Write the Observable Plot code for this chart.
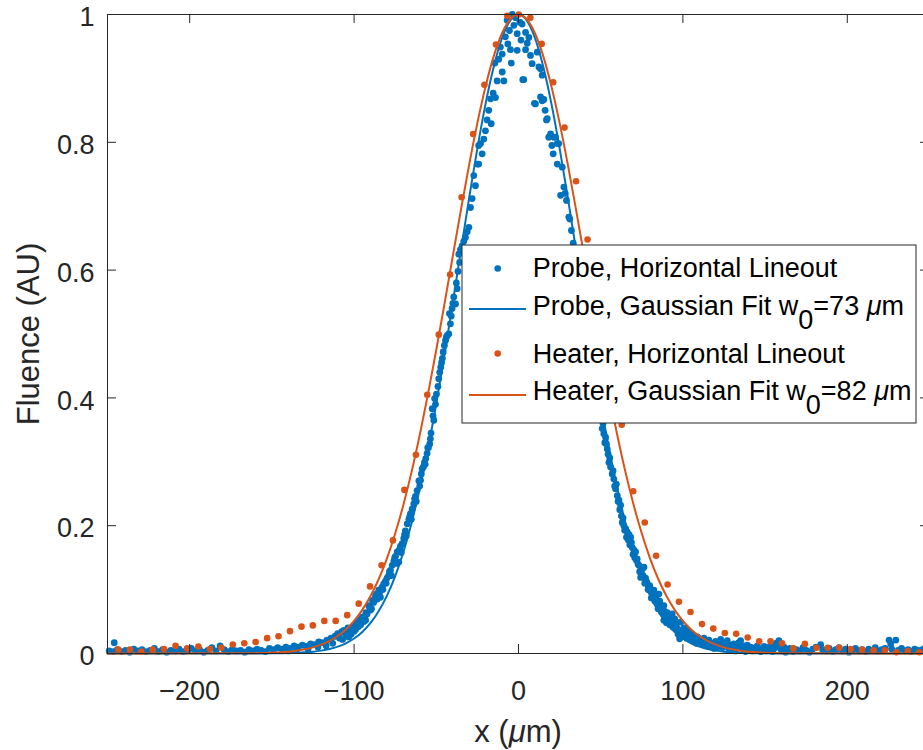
<!DOCTYPE html>
<html>
<head>
<meta charset="utf-8">
<script src="https://cdn.jsdelivr.net/npm/d3@7"></script>
<script src="https://cdn.jsdelivr.net/npm/@observablehq/plot@0.6"></script>
<style>
  html, body { margin: 0; padding: 0; background: white; overflow: hidden; }
  #chart { width: 923px; height: 750px; overflow: hidden; }
</style>
</head>
<body>
<div id="chart"></div>
<script>
// ---------- data ----------
const xTicks = [-200, -100, 0, 100, 200];
const xTickLabels = ["\u2212200", "\u2212100", "0", "100", "200"];
const yTicks = [0, 0.2, 0.4, 0.6, 0.8, 1];
const yTickLabels = ["0", "0.2", "0.4", "0.6", "0.8", "1"];

const xLabel = "x (";
const yLabel = "Fluence (AU)";
const seriesNames = [
  "Probe, Horizontal Lineout",
  "Probe, Gaussian Fit w",
  "Heater, Horizontal Lineout",
  "Heater, Gaussian Fit w"
];
const fitWaists = ["73", "82"];

// Probe horizontal lineout: [x (µm), fluence]
const probe = [
  [-249,0.004],[-246.5,0.003],[-245.9,0.017],[-244,0.006],[-241.5,0.003],[-239,0.005],[-236.5,0.002],[-234,0.007],
  [-231.5,0.004],[-229,0.006],[-226.5,0.003],[-224,0.005],[-221.5,0.008],[-219,0.003],[-216.5,0.006],[-214,0.002],
  [-211.5,0.005],[-209,0.004],[-206.5,0.007],[-204,0.003],[-201.5,0.005],[-199,0.008],[-196.5,0.004],[-194,0.006],
  [-191.5,0.002],[-189,0.005],[-186.5,0.009],[-184,0.004],[-181.5,0.012],[-179,0.006],[-176.5,0.003],[-174,0.007],
  [-171.5,0.004],[-169,0.005],[-166.5,0.002],[-164,0.006],[-161.5,0.004],[-159,0.007],[-156.5,0.005],[-154,0.003],
  [-151.5,0.008],[-149,0.006],[-146.5,0.009],[-144,0.007],[-141.5,0.010],[-140,0.004],[-139,0.008],[-136.5,0.012],
  [-135,0.006],[-134,0.010],[-131.5,0.013],[-129,0.011],[-128,0.007],[-126.5,0.015],[-124,0.014],[-122,0.010],
  [-121.5,0.018],[-119,0.017],[-117,0.012],[-116.5,0.021],[-114,0.024],[-113,0.016],[-111.5,0.027],
  [-110,0.031],[-109.4,0.028],[-108.8,0.024],[-107.5,0.034],[-107,0.022],[-106.3,0.036],[-105,0.029],[-104.4,0.033],
  [-103.8,0.040],[-103.3,0.026],[-102.5,0.038],[-101.8,0.030],[-101.2,0.041],[-100,0.035],[-99.4,0.044],[-99,0.038],
  [-98.8,0.047],[-98.2,0.049],[-97.5,0.042],[-96.9,0.047],[-96.3,0.053],[-96,0.045],[-95.1,0.057],[-94,0.050],
  [-93.5,0.058],[-93,0.052],[-92.8,0.064],[-92.1,0.062],[-91.1,0.075],[-90.6,0.072],[-90,0.068],[-89.4,0.070],
  [-88.8,0.083],[-88.1,0.080],[-87,0.090],[-86.5,0.093],[-86,0.085],[-85,0.099],[-84.5,0.096],[-84,0.088],
  [-83,0.104],[-82.5,0.100],[-82,0.109],[-81,0.113],[-80.5,0.110],[-80,0.118],[-79,0.122],[-78.5,0.128],
  [-77.9,0.130],[-77.3,0.122],[-76.8,0.138],[-75.8,0.145],[-75.3,0.150],[-74.8,0.152],[-74.3,0.141],[-73.8,0.159],
  [-72.8,0.143],[-72.3,0.163],[-71.8,0.168],[-71.3,0.158],[-70.8,0.172],[-69.8,0.180],[-69.3,0.186],[-68.8,0.192],
  [-68.3,0.184],[-67.7,0.203],[-66.7,0.210],[-66.2,0.214],[-65.7,0.219],[-65.2,0.210],[-64.7,0.226],[-63.7,0.234],
  [-63.2,0.242],[-62.7,0.246],[-62.2,0.238],[-61.7,0.255],[-60.6,0.270],[-60.1,0.262],[-59.6,0.271],[-59.1,0.281],
  [-58.6,0.289],[-57.9,0.292],[-57.2,0.299],[-56.8,0.296],[-56.4,0.305],[-55.6,0.313],[-55.2,0.322],[-54.8,0.322],
  [-54,0.328],[-53.6,0.336],[-53.2,0.345],[-52.5,0.383],[-52,0.372],[-51.5,0.365],[-51,0.399],[-50.5,0.390],
  [-49.9,0.406],[-49,0.418],[-48.5,0.430],[-47.9,0.440],[-47.3,0.448],[-46.8,0.455],[-46.3,0.462],[-45.8,0.472],
  [-45.1,0.482],[-44.4,0.490],[-43.9,0.495],[-43.4,0.498],[-42.4,0.500],[-42,0.532],[-41.4,0.516],[-40.9,0.528],
  [-40.4,0.540],[-39.9,0.548],[-39.4,0.558],[-38.3,0.547],[-37.8,0.580],[-37.3,0.571],[-36.8,0.598],[-36.3,0.625],
  [-35.8,0.612],[-35.3,0.632],[-34.3,0.638],[-33.3,0.645],
  [-32.3,0.651],[-31.2,0.660],[-30.2,0.667],[-29.2,0.698],[-28.2,0.712],[-27.2,0.748],[-26.2,0.732],[-25.1,0.766],
  [-24.2,0.766],[-24.2,0.795],[-23.1,0.798],[-22.1,0.782],[-21.1,0.805],[-20.1,0.818],[-19.1,0.835],[-18.1,0.850],
  [-17,0.868],[-16.6,0.829],[-15.4,0.877],[-14.4,0.924],[-14,0.870],[-13,0.896],[-12,0.930],[-11,0.949],
  [-9.9,0.938],[-9.9,0.910],[-8.9,0.896],[-8,0.965],[-6.9,0.991],[-6.5,0.954],[-5.5,0.975],[-4.9,0.945],
  [-4.4,0.924],[-3.8,1.000],[-2.8,0.983],[-1.8,0.995],[-0.8,0.970],[-0.8,0.944],[0.8,0.988],[1.5,0.960],
  [2.2,0.985],[2.6,0.898],[3.2,0.898],[4.3,0.972],[4.3,0.945],[5.3,0.955],[6.3,0.964],[7.3,0.936],
  [8.3,0.923],[9.7,0.861],[10.3,0.860],[11.4,0.941],[12.4,0.918],[13.4,0.915],[13.4,0.871],[14.4,0.905],
  [14.4,0.865],[15.4,0.867],[16.2,0.850],[17,0.835],[17.5,0.837],[18.4,0.808],[19.5,0.813],[20.3,0.795],
  [21.1,0.782],[21.5,0.808],[22.5,0.808],[23.6,0.798],[23.6,0.766],[24.5,0.798],[25.6,0.717],[26.6,0.761],
  [27.6,0.730],[28.4,0.720],[29.2,0.709],[30.6,0.683],[31.2,0.680],[32.2,0.662],[33.3,0.642],[34.4,0.620],
  [35.5,0.600],[36.6,0.582],[37.7,0.560],[38.8,0.540],[39.9,0.520],[41,0.500],[42.1,0.480],[43.2,0.462],
  [44.3,0.445],[45.4,0.428],[46.5,0.410],[47.6,0.395],[48.7,0.380],[49.8,0.366],[50.9,0.352],[51.4,0.360],
  [51.9,0.344],[52.5,0.330],[53,0.338],[53.5,0.328],[54,0.320],[54.5,0.312],[55,0.299],[55.5,0.306],
  [56,0.292],[57,0.281],[57.5,0.286],[58,0.273],[58.5,0.262],[59,0.258],[59.5,0.265],[60.1,0.247],
  [60.6,0.238],[61.1,0.240],[61.6,0.225],[62.1,0.232],[62.6,0.215],[63.1,0.205],[63.6,0.212],[64.1,0.200],
  [64.6,0.193],[65.2,0.195],[65.7,0.182],[66.2,0.190],[66.7,0.178],[67.2,0.186],[67.7,0.170],[68.2,0.182],
  [68.7,0.174],[69.2,0.166],[69.7,0.155],[70.2,0.162],[70.7,0.150],[71.2,0.159],[71.7,0.146],[72.2,0.148],
  [72.7,0.140],[73.2,0.138],[73.7,0.128],[74.3,0.119],[74.8,0.126],[75.3,0.133],[75.8,0.122],[76.3,0.135],
  [76.8,0.110],[77.3,0.118],[77.8,0.113],[78.3,0.110],[78.8,0.100],[79.3,0.104],[79.8,0.106],[80.3,0.098],
  [80.8,0.087],[81.4,0.093],[81.9,0.090],[82.3,0.099],[82.9,0.082],[83.4,0.088],[83.9,0.083],[84.4,0.078],
  [84.9,0.070],[85.4,0.093],[85.9,0.082],[86.4,0.076],[86.9,0.065],[87.5,0.070],[87.9,0.062],[88.4,0.075],
  [88.4,0.052],[89,0.066],[89.5,0.054],[90,0.048],[90.5,0.064],[91,0.052],[91.5,0.057],[92,0.045],
  [92.5,0.059],[93,0.050],[93.5,0.062],[94,0.041],[94.5,0.049],[95,0.054],[95.6,0.046],[96.1,0.041],
  [96.6,0.036],[97.1,0.030],[97.6,0.037],[98,0.023],[98.6,0.049],[99.1,0.027],[99.6,0.033],[100.1,0.030],
  [100.6,0.040],[101.2,0.038],[101.7,0.030],[102.2,0.024],[102.7,0.036],[103.7,0.026],[104.2,0.022],[104.7,0.032],
  [105.2,0.030],[105.7,0.024],[106.2,0.019],[106.7,0.028],[107.7,0.022],[108.2,0.016],[108.8,0.026],[109.3,0.024],
  [109.8,0.018],[110.8,0.020],
  [111.8,0.015],[112.8,0.024],[113.8,0.012],[114.8,0.018],[115.8,0.021],[116.8,0.011],[117.9,0.016],[118.9,0.008],
  [119.9,0.019],[120.9,0.010],[122,0.014],[123,0.022],[124,0.009],[125,0.017],[126,0.012],[127,0.020],
  [128,0.006],[129,0.013],[130,0.009],[131,0.015],[132,0.004],[133,0.011],[134,0.017],[135.1,0.020],
  [136.1,0.008],[137.1,0.012],[138.1,0.003],[139.2,0.013],[140.2,0.007],[141.2,0.010],[142.2,0.004],[143.2,0.005],
  [144.2,0.009],[145.3,0.012],[146.3,0.006],[147.3,0.003],[148.3,0.008],[149.4,0.011],[150.4,0.004],[151.4,0.009],
  [152.4,0.006],[153.5,0.013],[154.5,0.003],[155.5,0.008],[156.5,0.016],[157.5,0.011],[158.4,0.020],[159.5,0.007],
  [160.5,0.004],[161.5,0.010],[162.5,0.002],[163.5,0.005],[165,0.008],[167,0.003],[169,0.006],[171,0.004],
  [173,0.009],[175,0.005],[177,0.002],[179,0.007],[181,0.010],[183.8,0.014],[185,0.006],[187,0.004],
  [189,0.008],[191,0.003],[193,0.006],[195,0.009],[197,0.004],[199,0.007],[201,0.002],[203,0.005],
  [205,0.008],[207,0.004],[209,0.006],[211,0.003],[213,0.007],[215,0.005],[217,0.009],[219,0.004],
  [221,0.006],[223,0.008],[225.4,0.021],[226.4,0.015],[227,0.007],[229.5,0.021],[231,0.005],[233,0.008],
  [235,0.004],[237,0.006],[239,0.003],[241,0.007],[243,0.005],[245.7,0.006],[247.5,0.009],[249.5,0.004]
];

// Heater horizontal lineout
const heaterX = [-243.4,-236.4,-229.5,-222.5,-215.6,-208.6,-201.6,-194.7,-187.7,-180.8,
  -173.8,-166.8,-159.9,-152.9,-146.0,-139.0,-132.0,-125.1,-118.1,-111.2,
  -104.2,-97.2,-90.3,-83.3,-76.4,-69.4,-62.4,-55.5,-48.5,-41.6,
  -34.6,-27.6,-20.7,-13.7,-6.8,0.2,7.2,14.1,21.1,28.0,
  35.0,42.0,48.9,55.9,62.8,69.8,76.8,83.7,90.7,97.6,
  104.6,111.6,118.5,125.5,132.4,139.4,146.4,153.3,160.3,167.2,
  174.2,181.2,188.1,195.1,202.0,209.0,216.0,222.9,229.9,236.8,243.8];
const heaterY = [0.006,0.006,0.003,0.006,0.007,0.012,0.008,0.011,0.007,0.009,
  0.014,0.016,0.018,0.024,0.027,0.035,0.042,0.044,0.051,0.051,
  0.060,0.078,0.105,0.138,0.177,0.256,0.311,0.405,0.499,0.593,
  0.714,0.813,0.890,0.953,0.998,1.0,0.995,0.954,0.894,0.823,
  0.739,0.648,0.55,0.45,0.358,0.254,0.205,0.153,0.108,0.081,
  0.065,0.046,0.039,0.032,0.031,0.025,0.019,0.019,0.016,0.008,
  0.015,0.009,0.009,0.009,0.007,0.006,0.005,0.005,0.002,0.004,0.002];

// Gaussian fit curves, read along x
const fitX = [-250,-170,-165,-160,-155,-150,-145,-140,-135,-130,-125,-120,-115,-110,-105,-100,-95,-90,-85,-80,
  -75,-70,-65,-60,-55,-50,-45,-40,-35,-30,-25,-20,-15,-10,-5,0,5,10,15,20,25,30,35,40,45,50,55,60,65,70,
  75,80,85,90,95,100,105,110,115,120,125,130,135,140,145,150,155,160,165,170,250];
const probeFitY = [0,0,0,0.0001,0.0001,0.0002,0.0004,0.0006,0.0011,0.0018,0.0028,0.0045,0.0070,0.0107,0.0160,
  0.0234,0.0338,0.0478,0.0665,0.0905,0.1211,0.1590,0.2048,0.2590,0.3213,0.3913,0.4677,0.5486,0.6314,0.7133,
  0.7909,0.8606,0.9190,0.9632,0.9907,1,0.9907,0.9632,0.9190,0.8606,0.7909,0.7133,0.6314,0.5486,0.4677,
  0.3913,0.3213,0.2590,0.2048,0.1590,0.1211,0.0905,0.0665,0.0478,0.0338,0.0234,0.0160,0.0107,0.0070,0.0045,
  0.0028,0.0018,0.0011,0.0006,0.0004,0.0002,0.0001,0.0001,0,0,0];
const heaterFitY = [0,0.0002,0.0003,0.0005,0.0008,0.0012,0.0019,0.0029,0.0044,0.0066,0.0096,0.0138,0.0196,0.0273,0.0377,
  0.0511,0.0683,0.0899,0.1166,0.1490,0.1877,0.2328,0.2846,0.3428,0.4067,0.4754,0.5475,0.6213,0.6946,0.7651,
  0.8304,0.8878,0.9353,0.9707,0.9926,1,0.9926,0.9707,0.9353,0.8878,0.8304,0.7651,0.6946,0.6213,0.5475,
  0.4754,0.4067,0.3428,0.2846,0.2328,0.1877,0.1490,0.1166,0.0899,0.0683,0.0511,0.0377,0.0273,0.0196,0.0138,
  0.0096,0.0066,0.0044,0.0029,0.0019,0.0012,0.0008,0.0005,0.0003,0.0002,0];

// ---------- styling ----------
const BLUE = "#0072BD";
const ORANGE = "#D95319";
const AXIS = "#262626";
const FONT = "'Liberation Sans', Arial, Helvetica, sans-serif";
const FS = 27;      // tick labels and legend
const LFS = 31;     // axis labels

const W = 923, H = 750;
const mL = 107, mR = -6, mT = 14, mB = 97;
const plotW = W - mL - mR, plotH = H - mT - mB;
const TICK = 9;
const tx = TICK * 500 / plotW;   // tick length in x units
const ty = TICK * 1 / plotH;     // tick length in y units

const heater = heaterX.map((x, i) => ({x, y: heaterY[i]}));
const probeFit = fitX.map((x, i) => ({x, y: probeFitY[i]}));
const heaterFit = fitX.map((x, i) => ({x, y: heaterFitY[i]}));

const chart = Plot.plot({
  width: W, height: H,
  marginLeft: mL, marginRight: mR, marginTop: mT, marginBottom: mB,
  style: {fontFamily: FONT, fontSize: FS + "px", color: AXIS, background: "white", overflow: "visible"},
  x: {domain: [-250, 250]},
  y: {domain: [0, 1]},
  marks: [
    Plot.dot(probe, {x: d => d[0], y: d => d[1], r: 3.4, fill: BLUE, stroke: "none"}),
    Plot.line(probeFit, {x: "x", y: "y", stroke: BLUE, strokeWidth: 2, curve: "monotone-x"}),
    Plot.dot(heater, {x: "x", y: "y", r: 3.3, fill: ORANGE, stroke: "none"}),
    Plot.line(heaterFit, {x: "x", y: "y", stroke: ORANGE, strokeWidth: 2, curve: "monotone-x"}),
    Plot.frame({stroke: AXIS, strokeWidth: 1}),
    Plot.ruleX(xTicks, {x: d => d, y1: 0, y2: ty, stroke: AXIS, strokeWidth: 1}),
    Plot.ruleX(xTicks, {x: d => d, y1: 1 - ty, y2: 1, stroke: AXIS, strokeWidth: 1}),
    Plot.ruleY(yTicks, {y: d => d, x1: -250, x2: -250 + tx, stroke: AXIS, strokeWidth: 1}),
    Plot.ruleY(yTicks, {y: d => d, x1: 250 - tx, x2: 250, stroke: AXIS, strokeWidth: 1}),
    Plot.axisX({ticks: xTicks, tickSize: 0, tickPadding: 27, fontSize: FS, label: null,
      tickFormat: d => xTickLabels[xTicks.indexOf(d)]}),
    Plot.axisY({ticks: yTicks, tickSize: 0, tickPadding: 13, fontSize: FS, label: null, dy: 3,
      tickFormat: d => yTickLabels[yTicks.indexOf(d)]}),
    Plot.text([yLabel], {frameAnchor: "left", textAnchor: "middle", rotate: -90, dx: -69, lineAnchor: "bottom",
      fontSize: LFS, fill: AXIS, text: d => d})
  ]
});
document.getElementById("chart").appendChild(chart);

// ---------- x label and legend (decorations) ----------
const svg = d3.select(chart);
const xl = svg.append("text")
  .attr("x", 518).attr("y", 742).attr("text-anchor", "middle")
  .attr("font-family", FONT).attr("font-size", LFS).attr("fill", AXIS);
xl.append("tspan").text(xLabel);
xl.append("tspan").attr("font-style", "italic").text("\u03bc");
xl.append("tspan").text("m)");

const lg = svg.append("g").attr("font-family", FONT).attr("font-size", FS)
  .attr("fill", "#000").attr("text-anchor", "start");
lg.append("rect").attr("x", 462).attr("y", 245).attr("width", 454).attr("height", 178)
  .attr("fill", "white").attr("stroke", AXIS).attr("stroke-width", 1);
const rows = [
  {type: "dot", color: BLUE, cy: 268.5, base: 277, label: seriesNames[0]},
  {type: "line", color: BLUE, cy: 309, base: 315, label: seriesNames[1], w0: fitWaists[0]},
  {type: "dot", color: ORANGE, cy: 353.5, base: 363, label: seriesNames[2]},
  {type: "line", color: ORANGE, cy: 395, base: 400, label: seriesNames[3], w0: fitWaists[1]}
];
rows.forEach(r => {
  if (r.type === "dot") {
    lg.append("circle").attr("cx", 497.7).attr("cy", r.cy).attr("r", 3.3).attr("fill", r.color);
  } else {
    lg.append("line").attr("x1", 469).attr("x2", 526).attr("y1", r.cy).attr("y2", r.cy)
      .attr("stroke", r.color).attr("stroke-width", 2);
  }
  const t = lg.append("text").attr("x", 532.7).attr("y", r.base).attr("text-anchor", "start");
  t.append("tspan").text(r.label);
  if (r.w0) {
    t.append("tspan").attr("dy", 14).text("0");
    t.append("tspan").attr("dy", -14).text("=" + r.w0 + " ");
    t.append("tspan").attr("font-style", "italic").text("\u03bc");
    t.append("tspan").text("m");
  }
});
</script>
</body>
</html>
